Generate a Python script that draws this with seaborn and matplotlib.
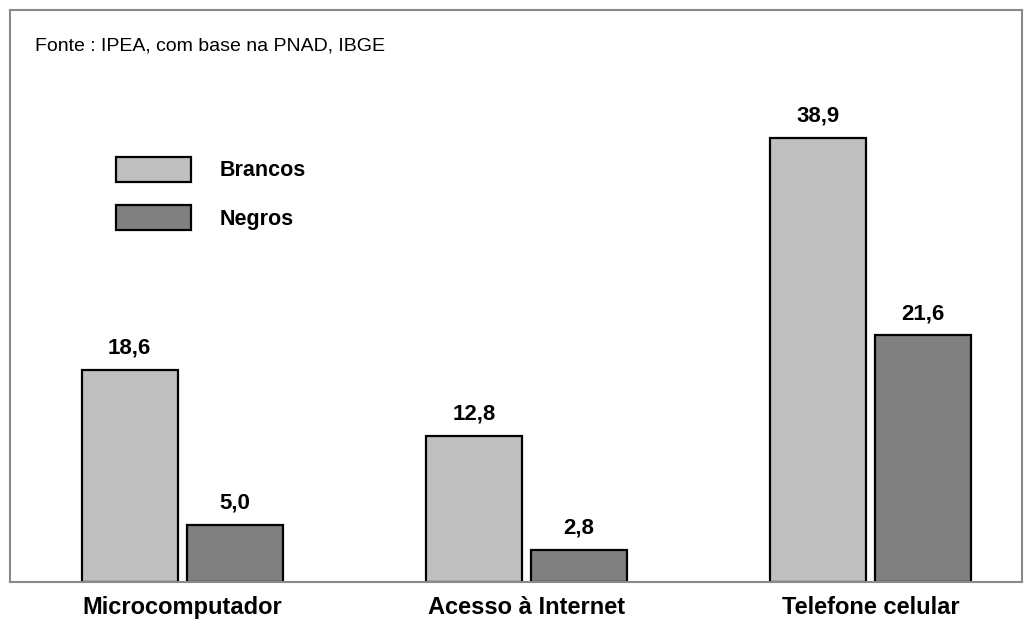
import matplotlib
matplotlib.use("Agg")
import matplotlib.pyplot as plt
from matplotlib.patches import Patch
import pandas as pd
import seaborn as sns

categorias = ["Microcomputador", "Acesso à Internet", "Telefone celular"]
brancos = [18.6, 12.8, 38.9]
negros = [5.0, 2.8, 21.6]
grupos = ["Brancos", "Negros"]
cores = {"Brancos": "#c0c0c0", "Negros": "#808080"}
fonte = "Fonte : IPEA, com base na PNAD, IBGE"

df = pd.DataFrame({
    "categoria": categorias * 2,
    "grupo": [grupos[0]] * len(categorias) + [grupos[1]] * len(categorias),
    "valor": brancos + negros,
})

sns.set_theme(style="white")
plt.rcParams["font.family"] = ["Liberation Sans", "DejaVu Sans"]

W, H = 1035, 625
fig = plt.figure(figsize=(W / 100, H / 100), dpi=100)
ax = fig.add_axes([10 / W, (H - 582) / H, (1022 - 10) / W, (582 - 10) / H])

sns.barplot(data=df, x="categoria", y="valor", hue="grupo", order=categorias,
            hue_order=grupos, palette=cores, width=0.61, gap=0.085,
            edgecolor="black", linewidth=1.6, legend=False, ax=ax)

ax.set_xlim(-0.5, 2.44)
ax.set_ylim(0, 50.1)
ax.set_xlabel("")
ax.set_ylabel("")
ax.set_yticks([])
ax.tick_params(axis="x", length=0, pad=10)
for lab in ax.get_xticklabels():
    lab.set_fontsize(17)
    lab.set_fontweight("bold")
    lab.set_color("black")

for s in ax.spines.values():
    s.set_visible(True)
    s.set_color("#8a8a8a")
    s.set_linewidth(1.5)

for cont in ax.containers:
    ax.bar_label(cont, labels=[f"{v:.1f}".replace(".", ",") for v in cont.datavalues],
                 padding=8, fontsize=16, fontweight="bold", color="black")

handles = [Patch(facecolor=cores[g], edgecolor="black", linewidth=1.6, label=g) for g in grupos]
leg = ax.legend(handles=handles, loc="upper left",
                bbox_to_anchor=(116 / W, 1 - 157 / H), bbox_transform=fig.transFigure,
                frameon=False, borderpad=0, borderaxespad=0,
                handlelength=3.5, handleheight=1.38, handletextpad=1.3,
                labelspacing=1.1, prop={"size": 15.5, "weight": "bold"})
for t in leg.get_texts():
    t.set_color("black")

fig.text(35 / W, 1 - 46 / H, fonte, fontsize=14, va="center", ha="left", color="black")

fig.savefig("out.png", dpi=100)
